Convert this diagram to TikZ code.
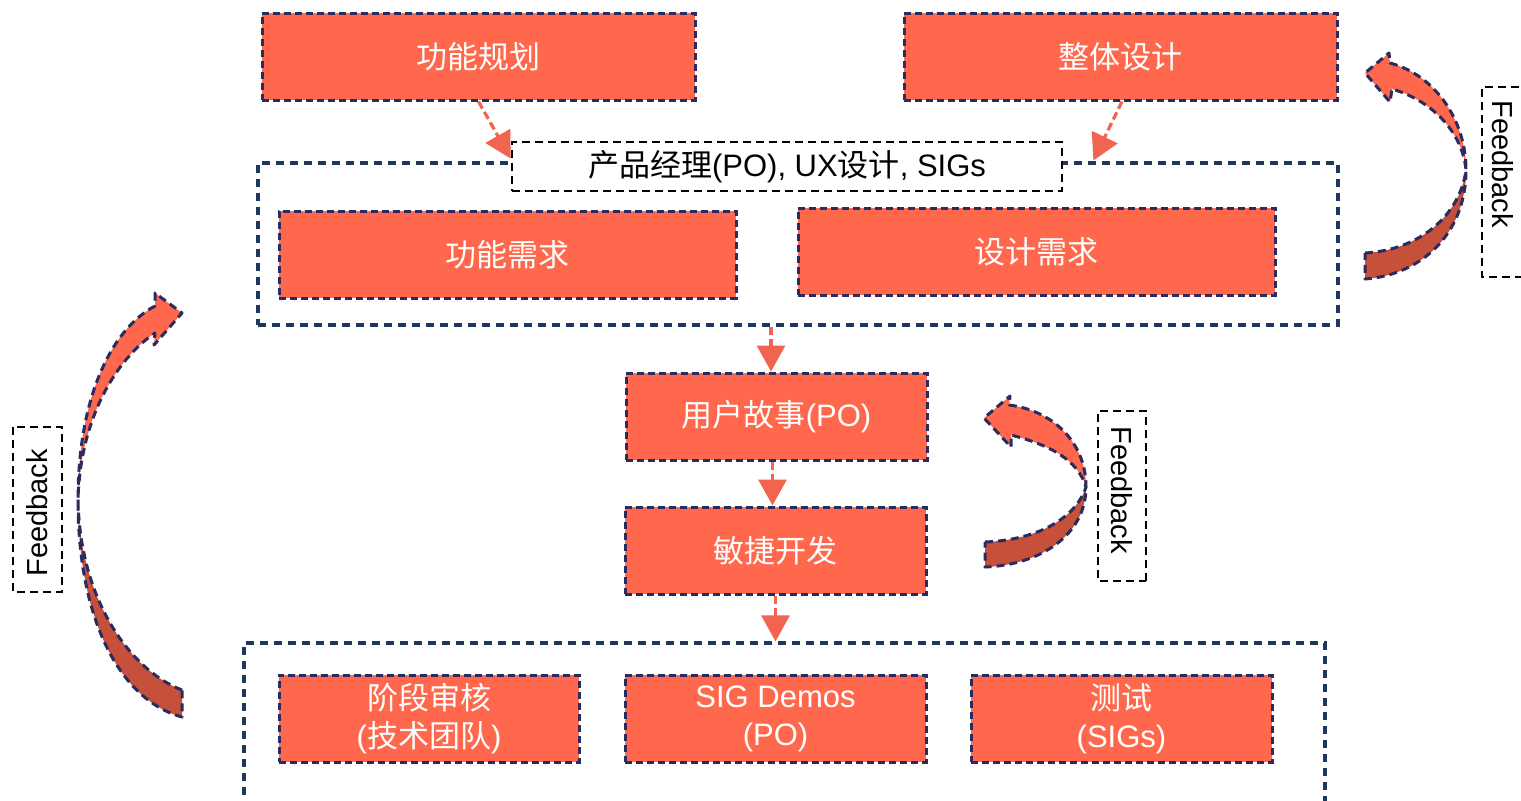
\documentclass[tikz,border=0pt]{standalone}
\usepackage{fontspec}
\setmainfont{Liberation Sans}
\newfontfamily\cjk{Noto Sans CJK SC}
\usetikzlibrary{arrows.meta}
\definecolor{boxfill}{RGB}{255,104,76}
\definecolor{boxline}{RGB}{42,43,94}
\definecolor{frameline}{RGB}{28,56,92}
\definecolor{conncol}{RGB}{240,100,80}
\definecolor{taildark}{RGB}{199,80,59}
\tikzset{
  redbox/.style={draw=boxline, fill=boxfill, line width=1.5pt, dash pattern=on 3.5pt off 2pt,
    inner sep=0pt, text=white, align=center, font=\fontsize{15.5}{19}\selectfont},
  framebox/.style={draw=frameline, line width=1.6pt, dash pattern=on 4pt off 3pt, inner sep=0pt},
  labelbox/.style={draw=black, fill=white, line width=1.4pt, dash pattern=on 4pt off 2.5pt,
    inner sep=0pt, text=black, font=\fontsize{15.5}{19}\selectfont},
  fbbox/.style={draw=black, line width=1.4pt, dash pattern=on 4pt off 2.5pt, inner sep=0pt,
    text=black, font=\fontsize{14.5}{17}\selectfont},
  conn/.style={draw=conncol, line width=1.6pt, dash pattern=on 4pt off 2pt,
    -{Triangle[length=13pt,width=14pt,fill=conncol]}},
  curvelight/.style={fill=boxfill, draw=none},
  curvedark/.style={fill=taildark, draw=none},
  curveline/.style={draw=boxline, line width=1.5pt, dash pattern=on 4pt off 2.5pt, line join=round}
}
\begin{document}
\begin{tikzpicture}[x=0.5pt,y=-0.5pt]
\useasboundingbox (0,0) rectangle (1521,800);
\clip (0,0) rectangle (1521,800);
\fill[white] (0,0) rectangle (1521,800);

% frames
\node[framebox, minimum width=540pt, minimum height=81pt] (frameTop) at (798,244) {};
\node[framebox, minimum width=540.5pt, minimum height=100pt] (frameBot) at (784.5,743) {};
\node[labelbox, minimum width=275pt, minimum height=24.5pt] (label) at (787,166.5)
  {{\cjk 产品经理}(PO), UX{\cjk 设计}, SIGs};

% boxes
\node[redbox, minimum width=216.5pt, minimum height=43.5pt] (plan) at (478.5,56.5) {{\cjk 功能规划}};
\node[redbox, minimum width=216.5pt, minimum height=43.5pt] (design) at (1120.5,56.5) {{\cjk 整体设计}};
\node[redbox, minimum width=228.5pt, minimum height=43.5pt] (req1) at (507.5,254.5) {{\cjk 功能需求}};
\node[redbox, minimum width=238.5pt, minimum height=43.5pt] (req2) at (1036.5,251.5) {{\cjk 设计需求}};
\node[redbox, minimum width=150.5pt, minimum height=43.5pt] (story) at (776.5,416.5) {{\cjk 用户故事}(PO)};
\node[redbox, minimum width=150.5pt, minimum height=43.5pt] (dev) at (775.5,550.5) {{\cjk 敏捷开发}};
\node[redbox, minimum width=150pt, minimum height=43.5pt] (review) at (429,718.5) {{\cjk 阶段审核}\\({\cjk 技术团队})};
\node[redbox, minimum width=150.5pt, minimum height=43.5pt] (demos) at (775.5,718.5) {SIG Demos\\(PO)};
\node[redbox, minimum width=150.5pt, minimum height=43.5pt] (test) at (1121.5,718.5) {{\cjk 测试}\\(SIGs)};

% connectors
\draw[conn] (plan.south) -- ([yshift=4pt]label.west);
\draw[conn] ([xshift=0.75pt]design.south) -- ([xshift=15pt,yshift=3pt]label.east);
\draw[conn] ([xshift=-2.75pt]story.north |- frameTop.south) -- ([xshift=-2.75pt]story.north);
\draw[conn] ([xshift=-2pt]story.south) -- ([xshift=-1.5pt]dev.north);
\draw[conn] (dev.south) -- (dev.south |- frameBot.north);

% feedback labels
\node[fbbox, rotate=-90, minimum width=95pt, minimum height=21pt] (fbR) at (1503,182) {Feedback\rule{18pt}{0pt}};
\node[fbbox, rotate=-90, minimum width=85pt, minimum height=24pt] (fbM) at (1122,496) {Feedback\rule{6pt}{0pt}};
\node[fbbox, rotate=90, minimum width=82.5pt, minimum height=24.5pt] (fbL) at (37.5,509.5) {Feedback\rule{3.5pt}{0pt}};

% curved arrow, top right
\fill[curvelight] (1466,170) .. controls (1466,120) and (1435,75) .. (1390,63)
  -- (1389,53) -- (1365,73) -- (1390,102) -- (1392,89)
  .. controls (1430,100) and (1462,130) .. (1466,170) -- cycle;
\fill[curvedark] (1466,170) .. controls (1466,235) and (1420,275) .. (1365,279)
  -- (1365,253) .. controls (1420,250) and (1460,215) .. (1466,170) -- cycle;
\draw[curveline] (1365,253) .. controls (1420,250) and (1460,215) .. (1466,170)
  .. controls (1462,130) and (1430,100) .. (1392,89) -- (1390,102) -- (1365,73) -- (1389,53) -- (1390,63)
  .. controls (1435,75) and (1466,120) .. (1466,170)
  .. controls (1466,235) and (1420,275) .. (1365,279) -- cycle;

% curved arrow, middle
\fill[curvelight] (1086,487) .. controls (1086,440) and (1050,410) .. (1009,405)
  -- (1010,396) -- (984,418) -- (1011,447) -- (1011,435)
  .. controls (1050,445) and (1078,460) .. (1086,487) -- cycle;
\fill[curvedark] (1086,487) .. controls (1086,535) and (1040,565) .. (985,567)
  -- (985,542) .. controls (1035,540) and (1075,520) .. (1086,487) -- cycle;
\draw[curveline] (985,542) .. controls (1035,540) and (1075,520) .. (1086,487)
  .. controls (1078,460) and (1050,445) .. (1011,435) -- (1011,447) -- (984,418) -- (1010,396) -- (1009,405)
  .. controls (1050,410) and (1086,440) .. (1086,487)
  .. controls (1086,535) and (1040,565) .. (985,567) -- cycle;

% curved arrow, left
\fill[curvelight] (78,500) .. controls (78,400) and (110,330) .. (155,306)
  -- (155,293) -- (182,313) -- (154,345) -- (155,333)
  .. controls (115,360) and (80,420) .. (78,500) -- cycle;
\fill[curvedark] (78,500) .. controls (78,620) and (120,700) .. (182,717)
  -- (182,690) .. controls (130,670) and (80,600) .. (78,500) -- cycle;
\draw[curveline] (182,690) .. controls (130,670) and (80,600) .. (78,500)
  .. controls (80,420) and (115,360) .. (155,333) -- (154,345) -- (182,313) -- (155,293) -- (155,306)
  .. controls (110,330) and (78,400) .. (78,500)
  .. controls (78,620) and (120,700) .. (182,717) -- cycle;
\end{tikzpicture}
\end{document}
